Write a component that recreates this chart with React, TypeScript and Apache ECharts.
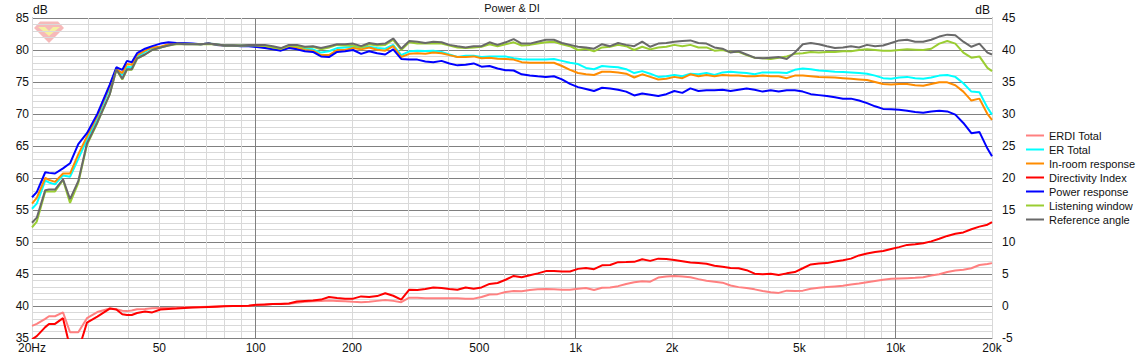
import React, { useEffect, useRef } from "react";
import * as echarts from "echarts";

const freqs = [
  20, 20.7, 22, 22.6, 23.6, 25, 26.3, 27.9, 29.7, 32, 35, 36.7, 38.3, 39.6, 41, 42.6, 45.1, 47.5,
  50.4, 53.4, 56.6, 60, 63.5, 67.3, 71.3, 75.5, 80, 84.8,
  89.8, 95.1, 100.8, 106.8, 113.1, 119.9, 127, 134.5, 142.5, 151,
  160, 169.5, 179.6, 190.3, 201.6, 213.6, 226.3, 239.7, 254, 269,
  285, 302, 320, 339, 359, 381, 403, 427, 453, 480,
  508, 538, 570, 604, 640, 678, 719, 761, 807, 855,
  906, 960, 1017, 1077, 1141, 1209, 1281, 1357, 1438, 1524,
  1614, 1710, 1812, 1920, 2034, 2155, 2283, 2419, 2563, 2715,
  2877, 3048, 3229, 3421, 3625, 3840, 4069, 4310, 4567, 4839,
  5127, 5431, 5754, 6096, 6459, 6843, 7250, 7681, 8137, 8621,
  9134, 9677, 10250, 10860, 11506, 12190, 12916, 13683, 14497, 15360,
  16273, 17241, 18266, 19353, 20000,
];

const reference = [
  53, 53.8, 58.1, 58.2, 58.2, 59.8, 56.7, 59.5, 65.4, 68.7, 73.1, 77, 75.5, 77, 77, 78.7, 79.3, 80,
  80.4, 80.7, 81, 80.9, 80.9, 80.9, 81, 80.9, 80.7, 80.7,
  80.7, 80.8, 80.8, 80.8, 80.6, 80.3, 80.8, 80.8, 80.5, 80.6,
  80.3, 80.6, 80.9, 80.9, 81, 80.6, 81.1, 80.9, 81, 81.8,
  80.2, 81.4, 81.3, 81.1, 81.3, 81.2, 80.8, 80.6, 80.4, 80.6,
  80.6, 81.2, 80.8, 81.2, 81.7, 81, 81, 81.3, 81.6, 81.6,
  81.1, 80.8, 80.5, 80.4, 80.2, 80.9, 80.6, 81.1, 80.8, 80.6,
  81.3, 80.5, 81, 81.1, 81.3, 81.4, 81.5, 81.1, 81, 80.4,
  80.2, 79.6, 79.8, 79.3, 78.8, 78.7, 78.8, 78.9, 78.6, 79.6,
  80.9, 81.1, 80.9, 80.6, 80.3, 80.4, 80.6, 80.4, 80.8, 80.6,
  80.7, 81.1, 81.5, 81.6, 81.3, 81.3, 81.6, 82.1, 82.4, 82.3,
  81.3, 80.5, 81, 79.6, 79.3,
];

const listening = [
  52.3, 53.2, 57.9, 57.9, 57.9, 59.7, 56.1, 59.2, 65.2, 68.6, 73.1, 76.9, 75.4, 76.9, 76.9, 78.6, 79.3, 80,
  80.4, 80.7, 80.9, 80.9, 80.9, 80.9, 80.95, 80.85, 80.7, 80.7,
  80.65, 80.7, 80.7, 80.65, 80.4, 80.2, 80.7, 80.6, 80.4, 80.5,
  80.1, 80.4, 80.8, 80.7, 80.7, 80.4, 80.9, 80.7, 80.8, 81.6,
  80, 81.2, 81, 81, 81, 81, 80.7, 80.4, 80.3, 80.4,
  80.5, 80.9, 80.6, 80.9, 81.2, 80.7, 80.8, 81, 81.2, 81.3,
  80.9, 80.6, 80, 80.2, 79.8, 80.4, 80.5, 80.8, 80.6, 80,
  80.5, 80.1, 80.4, 80.5, 80.8, 80.6, 80.8, 80.4, 80.4, 79.9,
  80, 79.7, 79.7, 79.2, 78.8, 78.7, 78.6, 78.8, 79, 79.4,
  79.5, 79.7, 79.6, 79.7, 79.7, 79.8, 79.8, 80, 80.1, 80,
  79.9, 79.9, 80, 80.1, 80.05, 80, 80.2, 81, 81.4, 81,
  79.6, 78.8, 79, 77.2, 76.7,
];

const power = [
  57, 57.8, 60.9, 60.8, 60.7, 61.5, 62.3, 65.3, 67, 70, 74.6, 77.3, 76.9, 78.3, 78.1, 79.5, 80.2, 80.6,
  81, 81.2, 81.1, 81.05, 81, 80.9, 81, 80.8, 80.7, 80.7,
  80.6, 80.6, 80.45, 80.3, 80.1, 79.9, 80.3, 80.1, 79.8, 79.7,
  79, 78.9, 79.7, 79.8, 80, 79.4, 79.8, 79.5, 79.3, 80.1,
  78.6, 78.5, 78.5, 78.2, 78.1, 78.3, 77.9, 77.6, 77.7, 77.9,
  77.4, 77.5, 77.1, 76.85, 76.8, 76.2, 76, 75.9, 75.8, 75.9,
  75.4, 74.7, 74.2, 73.9, 73.6, 74.1, 74, 73.8, 73.5, 72.9,
  73.2, 73, 72.8, 73.1, 73.6, 73.3, 74, 73.6, 73.7, 73.7,
  73.8, 73.6, 73.8, 74, 73.8, 73.5, 73.7, 73.5, 73.7, 73.7,
  73.5, 73.1, 72.95, 72.8, 72.6, 72.4, 72.4, 72.1, 71.7, 71.2,
  70.8, 70.75, 70.65, 70.5, 70.3, 70.2, 70.4, 70.5, 70.4, 69.9,
  68.6, 67, 67.2, 64.6, 63.4,
];

const directivity = [
  -5.2, -4.7, -3.3, -2.8, -2.8, -1.9, -6.5, -7, -2.6, -1.65, -0.4, -0.55, -1.3, -1.4, -1.4, -1.1, -0.85, -1,
  -0.55, -0.45, -0.4, -0.3, -0.25, -0.2, -0.15, -0.1, -0.05, 0,
  0, 0.05, 0.2, 0.25, 0.3, 0.3, 0.4, 0.7, 0.8, 0.85,
  1, 1.4, 1.25, 1.15, 1.15, 1.5, 1.4, 1.55, 2, 1.6,
  1, 2.55, 2.5, 2.65, 2.9, 2.8, 2.65, 2.55, 2.9, 2.7,
  2.9, 3.45, 3.6, 4.1, 4.7, 4.5, 4.8, 5.1, 5.45, 5.45,
  5.4, 5.4, 5.8, 5.95, 5.75, 6.35, 6.4, 6.85, 6.87, 6.9,
  7.3, 7.05, 7.4, 7.35, 7.2, 7, 6.8, 6.7, 6.6, 6.3,
  6.15, 5.95, 5.9, 5.6, 5.05, 4.95, 5.05, 4.85, 5.1, 5.3,
  5.9, 6.5, 6.65, 6.7, 6.95, 7.15, 7.4, 7.9, 8.2, 8.45,
  8.6, 8.9, 9.2, 9.55, 9.65, 9.8, 10.1, 10.5, 10.95, 11.3,
  11.5, 12, 12.4, 12.7, 13.1,
];

const inRoom = [
  56, 56.9, 60, 59.7, 59.4, 60.7, 60.7, 63.7, 66.5, 69.7, 74.4, 77, 76.4, 77.8, 77.7, 79.2, 79.9, 80.4,
  80.5, 80.9, 81, 81, 80.95, 80.9, 81, 80.8, 80.7, 80.7,
  80.65, 80.65, 80.6, 80.4, 80.2, 80, 80.5, 80.3, 80, 79.9,
  79.2, 79.2, 80, 80, 80.3, 80.1, 80.4, 80.05, 79.9, 80.6,
  78.9, 79.4, 79.5, 79.4, 79.6, 79.5, 79.2, 78.9, 78.9, 79,
  78.7, 78.8, 78.65, 78.6, 78.5, 78.1, 78, 78, 78, 78,
  77.5, 76.9, 76.4, 76.2, 76.1, 76.6, 76.6, 76.5, 76.3, 75.7,
  76.2, 75.8, 75.4, 75.5, 75.8, 75.6, 76.2, 75.9, 76.1, 75.9,
  76.1, 76, 76, 75.9, 75.9, 76, 75.9, 75.9, 75.6, 76,
  76, 75.9, 75.8, 75.75, 75.7, 75.6, 75.5, 75.4, 75.3, 75,
  74.7, 74.6, 74.7, 74.7, 74.5, 74.4, 74.7, 74.95, 74.95, 74.5,
  73.5, 72.1, 72.4, 70, 69.1,
];

const erTotal = [
  55.2, 56, 59.6, 59.3, 59, 60.4, 60.2, 63, 66, 69.3, 74.1, 76.8, 76.1, 77.4, 77.3, 78.9, 79.7, 80.3,
  80.4, 80.8, 81, 81, 80.95, 80.9, 81, 80.85, 80.7, 80.7,
  80.7, 80.7, 80.6, 80.5, 80.3, 80.1, 80.5, 80.4, 80.2, 80.1,
  79.6, 79.8, 80.3, 80.4, 80.5, 80.4, 80.5, 80.3, 80.2, 80.8,
  79.2, 79.8, 79.9, 79.85, 79.9, 79.7, 79.3, 78.9, 79.1, 79.1,
  78.9, 79, 79, 79, 78.7, 78.55, 78.5, 78.5, 78.5, 78.6,
  78.3, 78, 77.8, 77.2, 77, 77.5, 77.4, 77.3, 77, 76.4,
  76.7, 76.3, 75.8, 75.9, 76.1, 75.9, 76.3, 76.2, 76.4, 76.1,
  76.5, 76.6, 76.5, 76.4, 76.2, 76.5, 76.5, 76.5, 76.4, 76.9,
  77.1, 77, 76.8, 76.7, 76.6, 76.55, 76.5, 76.4, 76.3, 76,
  75.6, 75.5, 75.7, 75.8, 75.6, 75.5, 75.7, 76, 76.1, 75.8,
  74.8, 73.5, 73.4, 71, 69.9,
];

const erdi = [
  -3.1, -2.8, -2, -1.6, -1.6, -1, -4.1, -4.1, -1.9, -0.95, -0.4, -0.5, -0.75, -0.8, -0.7, -0.5, -0.45, -0.35,
  -0.3, -0.3, -0.25, -0.2, -0.2, -0.15, -0.1, -0.05, 0, 0,
  0, 0.05, 0.15, 0.2, 0.3, 0.35, 0.35, 0.5, 0.65, 0.75,
  0.8, 0.85, 0.8, 0.75, 0.65, 0.6, 0.65, 0.8, 0.95, 0.8,
  0.6, 1.3, 1.3, 1.2, 1.2, 1.2, 1.2, 1.2, 1.15, 1.15,
  1.4, 1.8, 1.85, 2.2, 2.35, 2.3, 2.5, 2.6, 2.65, 2.6,
  2.55, 2.55, 2.7, 2.8, 2.5, 2.85, 2.9, 3.1, 3.45, 3.7,
  3.85, 3.8, 4.45, 4.6, 4.7, 4.6, 4.5, 4.2, 3.95, 3.8,
  3.65, 3.2, 2.95, 2.8, 2.6, 2.35, 2.15, 2.05, 2.4, 2.35,
  2.4, 2.7, 2.85, 2.95, 3.05, 3.15, 3.35, 3.5, 3.7, 3.9,
  4.1, 4.25, 4.3, 4.35, 4.4, 4.5, 4.75, 4.95, 5.3, 5.55,
  5.65, 5.9, 6.4, 6.55, 6.7,
];

const minorFreqs = [
  20, 30, 40, 50, 60, 70, 80, 90, 200, 300, 400, 500, 600, 700, 800, 900,
  2000, 3000, 4000, 5000, 6000, 7000, 8000, 9000, 20000,
];
const majorFreqs = [100, 1000, 10000];
const tickLabels: Record<number, string> = {
  20: "20Hz", 50: "50", 100: "100", 200: "200", 500: "500",
  1000: "1k", 2000: "2k", 5000: "5k", 10000: "10k", 20000: "20k",
};

const FONT = "'Liberation Sans', Arial, sans-serif";
const pairs = (v: number[]) => freqs.map((f, i) => [f, v[i]]);
const gridMark = (f: number, color: string) => ({
  xAxis: f,
  lineStyle: { color, width: 1, type: "solid" },
  label: tickLabels[f]
    ? { show: true, formatter: tickLabels[f], position: "start", distance: 4, color: "#111", fontSize: 12, fontFamily: FONT }
    : { show: false },
});

export default function App() {
  const ref = useRef<HTMLDivElement>(null);
  useEffect(() => {
    document.body.style.margin = "0";
    const chart = echarts.init(ref.current!, null, { renderer: "svg" });
    const line = (name: string, data: number[], color: string, yAxisIndex = 0, extra: any = {}) => ({
      name,
      type: "line",
      data: pairs(data),
      yAxisIndex,
      symbol: "none",
      smooth: false,
      lineStyle: { color, width: 2 },
      itemStyle: { color },
      ...extra,
    });
    const yAxisBase = {
      type: "value",
      interval: 5,
      axisLine: { show: true, lineStyle: { color: "#7f7f7f", width: 1 } },
      axisTick: { show: false },
      minorTick: { show: false, splitNumber: 5 },
      splitLine: { show: true, lineStyle: { color: "#808080", width: 1 } },
      minorSplitLine: { show: true, lineStyle: { color: "#d9d9d9", width: 1 } },
    };
    const dbText = (x: number, align: string) => ({
      type: "text",
      x,
      y: 10,
      silent: true,
      style: { text: "dB", fill: "#111", font: `12px ${FONT}`, align, verticalAlign: "middle" },
    });
    chart.setOption({
      animation: false,
      backgroundColor: "#ffffff",
      title: {
        text: "Power & DI",
        left: 512,
        top: 2,
        padding: 0,
        textAlign: "center",
        textStyle: { color: "#111", fontSize: 11, fontWeight: "normal", fontFamily: FONT },
      },
      legend: {
        orient: "vertical",
        left: 1026,
        top: 130,
        padding: 0,
        icon: "rect",
        itemWidth: 18,
        itemHeight: 2,
        itemGap: 3,
        textStyle: { color: "#111", fontSize: 11, fontFamily: FONT, padding: [0, 0, 0, 0] },
        data: ["ERDI Total", "ER Total", "In-room response", "Directivity Index", "Power response", "Listening window", "Reference angle"],
      },
      grid: { left: 32, right: 152, top: 18, bottom: 18, containLabel: false },
      xAxis: {
        type: "log",
        logBase: 10,
        min: 20,
        max: 20000,
        axisLabel: { show: false },
        axisLine: { show: false },
        axisTick: { show: false },
        splitLine: { show: false },
        minorSplitLine: { show: false },
      },
      yAxis: [
        {
          ...yAxisBase,
          min: 35,
          max: 85,
          position: "left",
          axisLabel: { color: "#111", fontSize: 12, fontFamily: FONT, margin: 3 },
        },
        {
          ...yAxisBase,
          min: -5,
          max: 45,
          position: "right",
          splitLine: { show: false },
          minorSplitLine: { show: false },
          axisLabel: { color: "#111", fontSize: 12, fontFamily: FONT, margin: 10 },
        },
      ],
      series: [
        line("ERDI Total", erdi, "#ff8080", 1, {
          markLine: {
            silent: true,
            symbol: "none",
            z: 1,
            animation: false,
            data: [
              ...minorFreqs.map((f) => gridMark(f, "#d9d9d9")),
              ...majorFreqs.map((f) => gridMark(f, "#808080")),
            ],
          },
        }),
        line("ER Total", erTotal, "#00ffff"),
        line("In-room response", inRoom, "#ff8c00"),
        line("Directivity Index", directivity, "#ff0000", 1),
        line("Power response", power, "#0000ff"),
        line("Listening window", listening, "#9acd32"),
        line("Reference angle", reference, "#696969"),
      ],
      graphic: [
        dbText(33, "left"),
        dbText(990, "right"),
        {
          type: "group",
          silent: true,
          children: [
            { type: "polygon", shape: { points: [[34, 28], [40, 21.5], [58, 21.5], [64, 28], [49, 43]] }, style: { fill: "#f6b9b9" } },
            { type: "polygon", shape: { points: [[38, 27], [60, 27], [55, 31], [49, 36], [43, 31]] }, style: { fill: "#f4f0a0" } },
            { type: "polygon", shape: { points: [[45, 27], [53, 27], [49, 31]] }, style: { fill: "#f6b9b9" } },
          ],
        },
      ],
    });
    return () => chart.dispose();
  }, []);
  return <div ref={ref} style={{ width: 1144, height: 356 }} />;
}
